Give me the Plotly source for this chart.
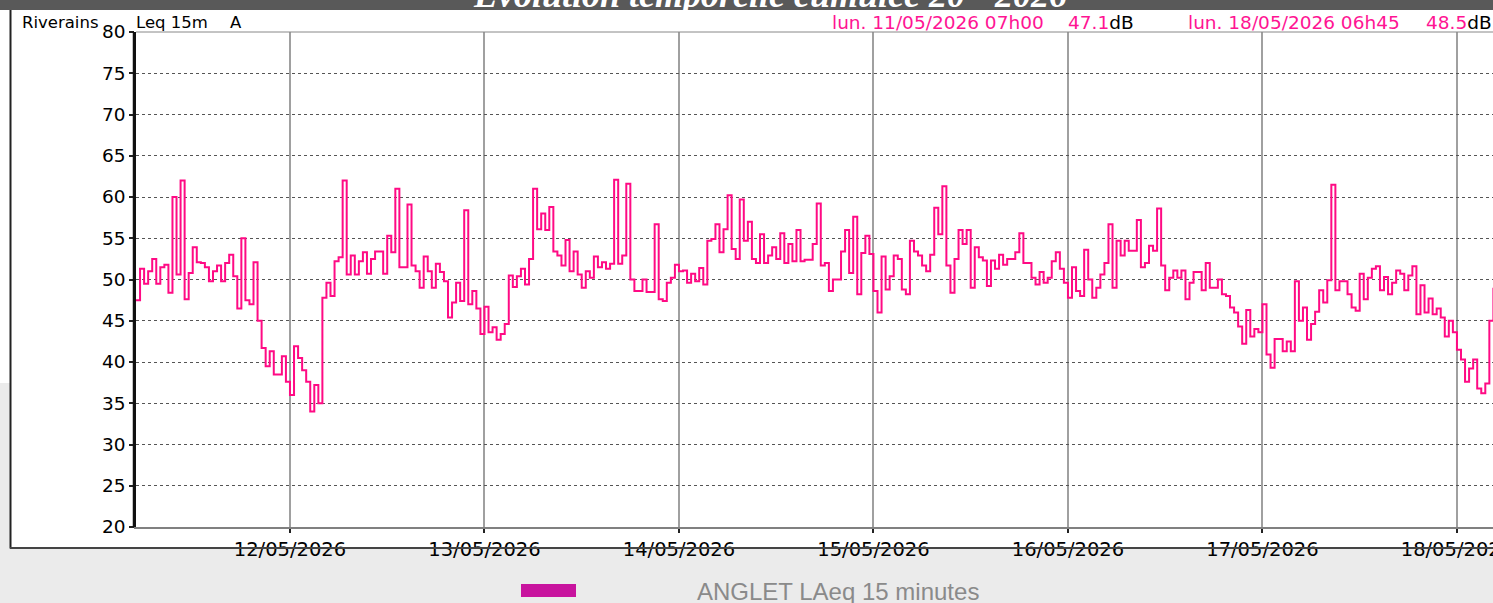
import plotly.graph_objects as go
import pandas as pd

# ---------------- data ----------------
start_time = "2026-05-11 05:00"
step = "30min"
laeq = [
    47.5, 51.3, 49.5, 51, 52.5, 49.5, 51.5, 51.8, 48.4, 60,
    50.6, 62, 47.6, 50.8, 53.9, 52.1, 52, 51.5, 49.8, 51,
    51.7, 49.8, 52, 53, 50.4, 46.5, 55, 47.5, 47, 52.1,
    45, 41.7, 39.5, 41.3, 38.5, 38.5, 40.7, 37.6, 36, 41.9,
    40.5, 39, 37.6, 34, 37.2, 35, 47.8, 49.6, 48, 52.2,
    52.7, 62, 50.6, 52.9, 50.6, 52.2, 53.3, 50.7, 52.5, 53.4,
    53.4, 50.7, 55.3, 53.3, 61, 51.5, 51.5, 59.1, 51.7, 51,
    49, 52.8, 51, 49, 51.9, 50.9, 49.8, 45.4, 47.2, 49.6,
    47.4, 58.4, 47, 48.6, 46.5, 43.4, 46.7, 43.6, 44.2, 42.7,
    43.4, 44.6, 50.5, 49.1, 50.4, 51.3, 49.4, 52.5, 61, 56.1,
    58, 56, 58.8, 53.4, 52.9, 51.7, 54.8, 51, 53.4, 50.6,
    49, 51, 50.2, 52.8, 51.5, 52.1, 51.3, 51.9, 62.1, 51.9,
    52.9, 61.6, 50, 48.6, 48.6, 50, 48.5, 48.5, 56.7, 47.6,
    47.4, 49.6, 50.2, 51.8, 51, 51.1, 49.6, 50.7, 49.8, 51.4,
    49.4, 54.7, 54.9, 56.7, 53.3, 56.1, 60.2, 53.7, 52.5, 59.7,
    54.7, 57, 52.5, 52, 55.5, 52, 52.9, 53.9, 52.5, 55.6,
    52, 54.3, 52.2, 56, 52.2, 52.4, 52.4, 54.3, 59.2, 51.7,
    52, 48.6, 50, 50, 53.4, 56, 50.8, 57.6, 48.2, 53.2,
    55.3, 53.1, 48.6, 46, 52.8, 48.8, 50.4, 52.9, 52.5, 48.8,
    48.2, 54.7, 53.4, 52.9, 51.7, 51, 53, 58.7, 55.5, 61.3,
    51.7, 48.4, 52.5, 56, 54.3, 56, 49, 53.9, 52.7, 52.3,
    49.2, 52.3, 51.3, 53, 51.8, 52.5, 52.5, 53.3, 55.6, 52,
    52, 50.2, 49.4, 50.9, 49.6, 50.2, 52.2, 53.3, 51.3, 49.6,
    47.8, 51.5, 48.6, 48, 53.6, 50, 47.8, 49, 50.6, 52,
    56.7, 49, 54.7, 52.9, 54.7, 53.5, 53.5, 57.2, 51.5, 52,
    54.1, 53.5, 58.6, 51.7, 48.7, 50.2, 51.1, 50.2, 51.1, 47.6,
    49.6, 50.9, 50.9, 48.7, 52, 49, 49, 50, 48.2, 48,
    46.6, 46, 44.3, 42.2, 46.3, 43.1, 44, 43.6, 47, 40.9,
    39.3, 42.8, 42.8, 41.3, 42.5, 41.3, 49.8, 45, 46.6, 42.7,
    44.6, 46.1, 48.7, 47.2, 49.9, 61.5, 48.7, 49.8, 49.8, 48.2,
    46.6, 46.2, 50.7, 47.6, 50.2, 51.3, 51.6, 48.7, 50.3, 48.2,
    49.6, 51.1, 50.7, 48.7, 50.5, 51.6, 45.8, 49.3, 46, 47.7,
    45.8, 46.5, 45.4, 43.1, 45, 43.6, 41.5, 40.3, 37.6, 39.2,
    40.3, 36.8, 36.2, 37.4, 45, 49,
]
day_ticks = ["2026-05-12", "2026-05-13", "2026-05-14", "2026-05-15",
             "2026-05-16", "2026-05-17", "2026-05-18"]
day_labels = ["12/05/2026", "13/05/2026", "14/05/2026", "15/05/2026",
              "16/05/2026", "17/05/2026", "18/05/2026"]
y_ticks = [20, 25, 30, 35, 40, 45, 50, 55, 60, 65, 70, 75, 80]
series_name = "ANGLET LAeq 15 minutes"

times = pd.date_range(start_time, periods=len(laeq), freq=step)
x_start = pd.Timestamp(start_time)
x_end = x_start + pd.Timedelta(hours=167.45)

# ---------------- geometry helpers ----------------
W, H = 1493, 603
L, R, T, B = 136, 0, 32, 76
PW, PH = W - L - R, H - T - B


def px(x):
    return (x - L) / PW


def py(y):
    return 1 - (y - T) / PH


PINK = "#ff1493"
LINE = "#ff0a84"
AXFONT = "DejaVu Sans"

fig = go.Figure()
fig.add_trace(go.Scatter(
    x=times, y=laeq, mode="lines", line=dict(color=LINE, width=2, shape="hv"),
    name=series_name, showlegend=False, hoverinfo="x+y",
))

shapes = [
    # dark page header
    dict(type="rect", xref="paper", yref="paper", x0=px(-5), x1=px(1500), y0=py(-5), y1=py(10),
         fillcolor="#595959", line=dict(width=0), layer="below"),
    # white chart panel
    dict(type="rect", xref="paper", yref="paper", x0=px(10), x1=px(1500), y0=py(10), y1=py(548),
         fillcolor="white", line=dict(width=0), layer="below"),
    dict(type="rect", xref="paper", yref="paper", x0=px(-5), x1=px(10), y0=py(10), y1=py(383),
         fillcolor="white", line=dict(width=0), layer="below"),
    # panel borders
    dict(type="line", xref="paper", yref="paper", x0=px(10.5), x1=px(10.5), y0=py(10), y1=py(548.5),
         line=dict(color="#222", width=2)),
    dict(type="line", xref="paper", yref="paper", x0=px(10), x1=px(1500), y0=py(548), y1=py(548),
         line=dict(color="#444", width=2)),
    # double y axis line
    dict(type="line", xref="paper", yref="paper", x0=px(133.5), x1=px(133.5), y0=py(32), y1=py(527),
         line=dict(color="#111", width=1.5)),
    # top frame
    dict(type="line", xref="paper", yref="paper", x0=px(136), x1=px(1500), y0=py(32), y1=py(32),
         line=dict(color="#888", width=1)),
    # legend swatch
    dict(type="rect", xref="paper", yref="paper", x0=px(521), x1=px(576), y0=py(584), y1=py(597),
         fillcolor="#c8149e", line=dict(width=0)),
]


def ann(text, x, y, size, color, font=AXFONT, xanchor="left", yanchor="middle"):
    return dict(text=text, xref="paper", yref="paper", x=px(x), y=py(y), xanchor=xanchor,
                yanchor=yanchor, showarrow=False, borderpad=0,
                font=dict(family=font, size=size, color=color))


annotations = [
    ann("<b><i>Evolution temporelle cumulée 20 - 2026</i></b>", 770, 16, 36, "white",
        font="Liberation Serif, serif", xanchor="center", yanchor="bottom"),
    ann("Riverains", 21, 22, 16.5, "black"),
    ann("Leq 15m", 135, 22, 16.5, "black"),
    ann("A", 229, 22, 16.5, "black"),
    ann("lun. 11/05/2026 07h00", 831, 22, 18.5, PINK),
    ann("47.1<span style='color:black'>dB</span>", 1067, 22, 18.5, PINK),
    ann("lun. 18/05/2026 06h45", 1187, 22, 18.5, PINK),
    ann("48.5<span style='color:black'>dB</span>", 1425, 22, 18.5, PINK),
    ann(series_name, 696, 591, 24, "#8a8a8a", font="Liberation Sans, Arial, sans-serif"),
]

fig.update_layout(
    width=W, height=H,
    margin=dict(l=L, r=R, t=T, b=B, pad=0, autoexpand=False),
    paper_bgcolor="#ebebeb", plot_bgcolor="white",
    showlegend=False,
    shapes=shapes, annotations=annotations,
    xaxis=dict(
        range=[x_start, x_end], tickvals=day_ticks, ticktext=day_labels,
        showgrid=True, gridcolor="#a0a0a0", gridwidth=1.5,
        ticks="outside", ticklen=4, tickwidth=1.5, tickcolor="#222",
        showline=True, linecolor="#808080", linewidth=2, zeroline=False,
        ticklabeloverflow="allow", automargin=False,
        tickfont=dict(family=AXFONT, size=19.5, color="black"), fixedrange=True,
    ),
    yaxis=dict(
        range=[20, 80], tickvals=y_ticks, automargin=False,
        showgrid=True, gridcolor="#555", gridwidth=1, griddash="dot",
        ticks="outside", ticklen=5, tickwidth=1.5, tickcolor="#222",
        showline=True, linecolor="#111", linewidth=1.5, zeroline=False,
        tickfont=dict(family=AXFONT, size=18.5, color="black"), fixedrange=True,
    ),
)

fig.write_html(
    "out.html",
    config={"displayModeBar": False},
    post_script="document.body.style.margin='0px';document.body.style.overflow='hidden';",
)
